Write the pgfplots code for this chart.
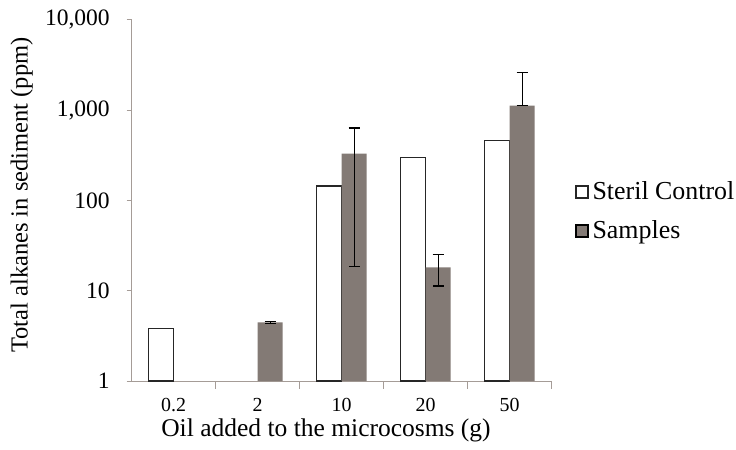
\documentclass[border=0pt]{standalone}
\usepackage{pgfplots}
\pgfplotsset{compat=1.18}
\usepackage{fontspec}
\setmainfont{Liberation Serif}
\definecolor{samp}{HTML}{837A75}
\definecolor{axgray}{HTML}{A59C97}
\begin{document}
\begin{tikzpicture}
\path[use as bounding box] (-65.85bp,-34.5bp) rectangle (302.15bp,190.5bp);
\begin{axis}[
  at={(0,0)}, anchor=south west,
  scale only axis, width=210bp, height=180.5bp,
  ymode=log, ymin=1, ymax=10000,
  xmin=-0.5, xmax=4.5,
  ybar=0pt, bar width=12.5bp,
  axis x line*=bottom, axis y line*=left,
  axis line style={draw=axgray, line width=0.5bp},
  tick align=outside,
  major tick length=2.5bp,
  ytick={1,10,100,1000,10000},
  yticklabels={1,10,100,{1,000},{10,000}},
  yminorticks=false,
  ytick style={draw=axgray, line width=0.5bp},
  yticklabel style={anchor=east, inner sep=0pt, xshift=-8.3bp, font=\fontsize{11.8}{13}\selectfont},
  xtick={0,1,2,3,4},
  xticklabels={0.2,2,10,20,50},
  xtick style={draw=none},
  xticklabel style={anchor=base, inner sep=0pt, yshift=-13bp, font=\fontsize{10}{11}\selectfont},
  extra x ticks={0.5,1.5,2.5,3.5,4.5},
  extra x tick labels={},
  extra x tick style={major tick length=4bp, xtick style={draw=axgray, line width=0.5bp}},
  xlabel={Oil added to the microcosms (g)},
  ylabel={Total alkanes in sediment (ppm)},
  every axis y label/.style={at={(axis description cs:-0.262,0.515)}, rotate=90, anchor=center, font=\fontsize{12.3}{14}\selectfont},
  every axis x label/.style={at={(axis description cs:0.4626,-0.154)}, anchor=base, font=\fontsize{12.8}{14}\selectfont},
  legend style={draw=none, fill=none, at={(axis description cs:1.0555,0.4695)}, anchor=west, inner sep=0pt, row sep=5bp, font=\fontsize{13}{15}\selectfont},
  legend cell align=left,
  legend image code/.code={\draw[#1, line width=0.6bp] (0bp,-3bp) rectangle (6bp,3bp);},
]
\addplot[fill=white, draw=black!85, line width=0.6bp] coordinates {(0,3.8) (2,145) (3,300) (4,460)};
\addplot[fill=samp, draw=none,
  error bars/.cd, y dir=both, y explicit,
  error bar style={draw=black, line width=0.6bp},
  error mark options={rotate=90, mark size=2.75bp, draw=black, line width=0.6bp}]
  coordinates {(1,4.45) += (0,0.15) -= (0,0.15) (2,330) += (0,306) -= (0,311.5) (3,18.2) += (0,7.1) -= (0,6.9) (4,1127) += (0,1473) -= (0,0)};
\legend{Steril Control, Samples}
\end{axis}
\end{tikzpicture}
\end{document}
